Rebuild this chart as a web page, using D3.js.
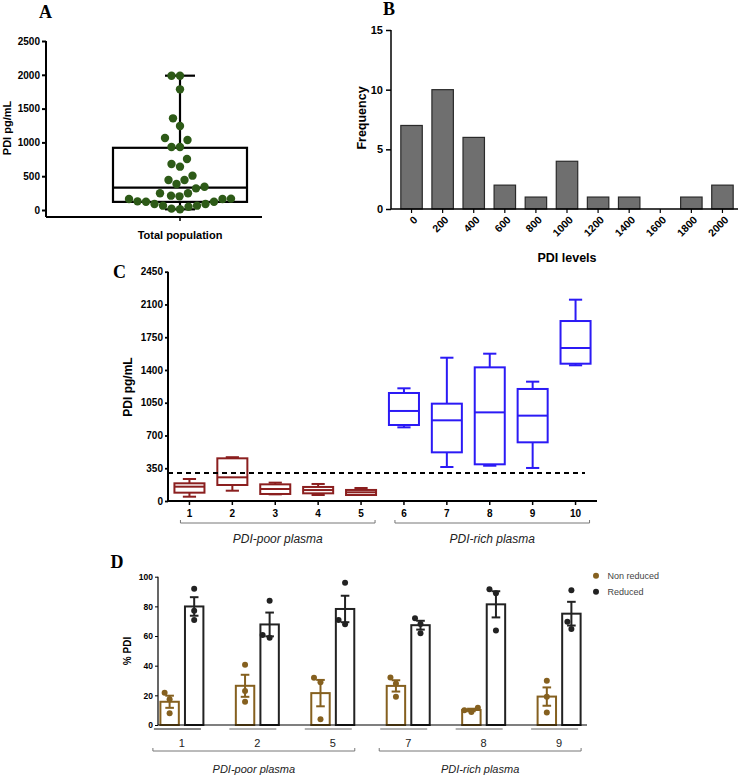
<!DOCTYPE html>
<html><head><meta charset="utf-8">
<script src="https://cdn.jsdelivr.net/npm/d3@7"></script>
<style>
body{margin:0;background:#fff}
text{font-family:"Liberation Sans",Arial,Helvetica,sans-serif}
text.letter{font-family:"Liberation Serif","Times New Roman",serif}
</style>
</head><body>
<svg id="chart" width="745" height="778"></svg>
<script>
// ---------- DATA ----------
// Panel A: individual PDI levels (pg/mL), total population
const popValues = [1987,1987,1785,1356,1243,1036,1065,932,932,754,641,680,444,444,508,345,320,385,247,247,
  212,168,163,123,89,64,49,10,20,64,89,123,128,163,202];
const popCategory = ["Total population"];
const popBoxStats = [10,120,330,920,1987]; // min, q1, median, q3, max
const popTicks = [0,500,1000,1500,2000,2500];

// Panel B: histogram
const histBins = ["0","200","400","600","800","1000","1200","1400","1600","1800","2000"];
const histFreq = [7,10,6,2,1,4,1,1,0,1,2];
const histTicks = [0,5,10,15];

// Panel C: per-sample box plots
const sampleIds = ["1","2","3","4","5","6","7","8","9","10"];
const sampleGroup = ["poor","poor","poor","poor","poor","rich","rich","rich","rich","rich"];
const boxMin    = [46,110,71,64,64,787,363,377,353,1450];
const boxQ1     = [89,171,75,82,64,812,520,392,627,1467];
const boxMedian = [153,253,128,117,93,962,862,947,912,1635];
const boxQ3     = [189,456,178,150,118,1154,1040,1428,1197,1923];
const boxMax    = [235,468,196,182,139,1204,1531,1574,1275,2151];
const thresholdC = 300;
const cTicks = [0,350,700,1050,1400,1750,2100,2450];
const cGroupLabels = ["PDI-poor plasma","PDI-rich plasma"];

// Panel D: % PDI, non reduced vs reduced (3 replicates each)
const dGroups = ["1","2","5","7","8","9"];
const dGroupClass = ["poor","poor","poor","rich","rich","rich"];
const dSeries = ["Non reduced","Reduced"];
const nonReducedDots = [[21.8,17.3,7.9],[40.7,22.9,15.7],[31.9,28.8,3.8],[32,28,19.1],[11.7,9.9,8.8],[29.9,19.1,8.5]];
const reducedDots    = [[91.9,77.1,70.8],[83.8,58.9,60.7],[96,67.9,70.8],[72,68.1,61.8],[91.5,88.8,63.8],[90.8,69.7,64.7]];
const dTicks = [0,20,40,60,80,100];

// ---------- HELPERS ----------
const svg = d3.select("#chart");

// beeswarm layout with an elliptical collision zone (dx width D, dy height H)
function swarm(vals, yScale, D, H, step) {
  const order = vals.map((v,i)=>({v,i,y:yScale(v)})).sort((a,b)=>a.v-b.v);
  const placed = [];
  order.forEach(p=>{
    for (let k=0;k<600;k++){
      const dx = (k%2===0?1:-1)*Math.ceil(k/2)*step;
      const ok = placed.every(q=>((dx-q.dx)/D)**2+((p.y-q.y)/H)**2 >= 0.999);
      if (ok){ p.dx = dx; break; }
    }
    placed.push(p);
  });
  return placed;
}
function styleAxis(g, size, sw){
  g.selectAll("text").attr("font-size",size).attr("font-weight","bold").attr("fill","#000");
  g.selectAll("line").attr("stroke","#000").attr("stroke-width",sw);
  g.select(".domain").remove();
}
function letter(txt,x,y){
  svg.append("text").attr("class","letter").attr("x",x).attr("y",y).text(txt)
    .attr("font-weight","bold").attr("font-size",18);
}

// ---------- PANEL A ----------
{
  const g = svg.append("g");
  const y = d3.scaleLinear().domain([0,2500]).range([210,41]);
  const x = d3.scaleBand().domain(popCategory).range([113,247]);
  const cx = x(popCategory[0]) + x.bandwidth()/2;
  const ax = g.append("g").attr("transform","translate(46,0)")
    .call(d3.axisLeft(y).tickValues(popTicks).tickSize(4).tickPadding(2).tickFormat(d3.format("d")));
  styleAxis(ax,10,2);
  g.append("line").attr("x1",46).attr("x2",46).attr("y1",y(2500)).attr("y2",217).attr("stroke","#000").attr("stroke-width",2);
  g.append("line").attr("x1",46).attr("x2",262).attr("y1",217).attr("y2",217).attr("stroke","#000").attr("stroke-width",2);
  g.append("line").attr("x1",cx).attr("x2",cx).attr("y1",217).attr("y2",221).attr("stroke","#000").attr("stroke-width",1.5);
  g.append("text").attr("x",cx).attr("y",239).attr("text-anchor","middle").attr("font-weight","bold").attr("font-size",11).text(popCategory[0]);
  g.append("text").attr("transform","translate(11,128) rotate(-90)").attr("text-anchor","middle").attr("font-weight","bold").attr("font-size",11).text("PDI pg/mL");
  const [mn,q1,md,q3,mx] = popBoxStats;
  const sw = 2.2;
  g.append("rect").attr("x",x(popCategory[0])).attr("width",x.bandwidth()).attr("y",y(q3)).attr("height",y(q1)-y(q3))
    .attr("fill","none").attr("stroke","#000").attr("stroke-width",sw);
  g.append("line").attr("x1",x(popCategory[0])).attr("x2",x(popCategory[0])+x.bandwidth()).attr("y1",y(md)).attr("y2",y(md)).attr("stroke","#000").attr("stroke-width",sw);
  g.append("line").attr("x1",cx).attr("x2",cx).attr("y1",y(mx)).attr("y2",y(q3)).attr("stroke","#000").attr("stroke-width",sw);
  g.append("line").attr("x1",cx).attr("x2",cx).attr("y1",y(q1)).attr("y2",y(mn)).attr("stroke","#000").attr("stroke-width",sw);
  g.append("line").attr("x1",cx-15).attr("x2",cx+15).attr("y1",y(mx)).attr("y2",y(mx)).attr("stroke","#000").attr("stroke-width",sw);
  g.append("line").attr("x1",cx-15).attr("x2",cx+15).attr("y1",y(mn)).attr("y2",y(mn)).attr("stroke","#000").attr("stroke-width",sw);
  const pts = swarm(popValues, y, 8.4, 13, 0.5);
  g.selectAll("circle.pop").data(pts).join("circle").attr("class","pop")
    .attr("cx",d=>cx+d.dx).attr("cy",d=>d.y).attr("r",4.2).attr("fill","#2d5a17");
  letter("A",39,18);
}

// ---------- PANEL B ----------
{
  const g = svg.append("g");
  const y = d3.scaleLinear().domain([0,15]).range([209,30]);
  const x = d3.scaleBand().domain(histBins).range([396,738]).paddingInner(0.31).paddingOuter(0.155);
  const ax = g.append("g").attr("transform","translate(391,0)")
    .call(d3.axisLeft(y).tickValues(histTicks).tickSize(5).tickPadding(3));
  styleAxis(ax,11,1.5);
  g.selectAll("rect.bar").data(histBins).join("rect").attr("class","bar")
    .attr("x",d=>x(d)).attr("width",x.bandwidth())
    .attr("y",(d,i)=>y(histFreq[i])).attr("height",(d,i)=>y(0)-y(histFreq[i]))
    .attr("fill","#6f6f6f").attr("stroke","#2a2a2a").attr("stroke-width",1.2);
  g.append("line").attr("x1",391).attr("x2",391).attr("y1",30).attr("y2",209).attr("stroke","#000").attr("stroke-width",1.5);
  g.append("line").attr("x1",391).attr("x2",738).attr("y1",209).attr("y2",209).attr("stroke","#000").attr("stroke-width",1.5);
  g.selectAll("line.xt").data(histBins).join("line").attr("class","xt")
    .attr("x1",d=>x(d)+x.bandwidth()/2).attr("x2",d=>x(d)+x.bandwidth()/2).attr("y1",209).attr("y2",213)
    .attr("stroke","#000").attr("stroke-width",1.2);
  g.selectAll("text.xl").data(histBins).join("text").attr("class","xl")
    .attr("transform",d=>`translate(${x(d)+x.bandwidth()/2+4},${218}) rotate(-45)`)
    .attr("text-anchor","end").attr("dy","0.35em").attr("font-size",10.5).attr("font-weight","bold").text(d=>d);
  g.append("text").attr("x",567).attr("y",262).attr("text-anchor","middle").attr("font-weight","bold").attr("font-size",12.5).text("PDI levels");
  g.append("text").attr("transform","translate(366,118) rotate(-90)").attr("text-anchor","middle").attr("font-weight","bold").attr("font-size",12.5).text("Frequency");
  letter("B",383,15);
}

// ---------- PANEL C ----------
{
  const g = svg.append("g");
  const y = d3.scaleLinear().domain([0,2450]).range([501,271.7]);
  const x = d3.scaleBand().domain(sampleIds).range([168,597]).paddingInner(0.3).paddingOuter(0.15);
  const colorC = {poor:"#8b1f1f", rich:"#2b1af5"};
  const ax = g.append("g").attr("transform","translate(168,0)")
    .call(d3.axisLeft(y).tickValues(cTicks).tickSize(3).tickPadding(2).tickFormat(d3.format("d")));
  styleAxis(ax,10,1.8);
  g.append("line").attr("x1",168).attr("x2",168).attr("y1",271.7).attr("y2",501).attr("stroke","#000").attr("stroke-width",2);
  g.append("line").attr("x1",168).attr("x2",597).attr("y1",501).attr("y2",501).attr("stroke","#000").attr("stroke-width",2);
  sampleIds.forEach((id,i)=>{
    const c = x(id)+x.bandwidth()/2, x0 = x(id), w = x.bandwidth(), col = colorC[sampleGroup[i]], sw = 2;
    const cap = w*0.22;
    g.append("line").attr("x1",c).attr("x2",c).attr("y1",501).attr("y2",505).attr("stroke","#000").attr("stroke-width",1.5);
    g.append("text").attr("x",c).attr("y",517).attr("text-anchor","middle").attr("font-weight","bold").attr("font-size",10).text(id);
    g.append("line").attr("x1",c).attr("x2",c).attr("y1",y(boxMax[i])).attr("y2",y(boxQ3[i])).attr("stroke",col).attr("stroke-width",sw);
    g.append("line").attr("x1",c).attr("x2",c).attr("y1",y(boxQ1[i])).attr("y2",y(boxMin[i])).attr("stroke",col).attr("stroke-width",sw);
    g.append("line").attr("x1",c-cap).attr("x2",c+cap).attr("y1",y(boxMax[i])).attr("y2",y(boxMax[i])).attr("stroke",col).attr("stroke-width",sw);
    g.append("line").attr("x1",c-cap).attr("x2",c+cap).attr("y1",y(boxMin[i])).attr("y2",y(boxMin[i])).attr("stroke",col).attr("stroke-width",sw);
    g.append("rect").attr("x",x0).attr("width",w).attr("y",y(boxQ3[i])).attr("height",Math.max(0.5,y(boxQ1[i])-y(boxQ3[i])))
      .attr("fill","#fff").attr("stroke",col).attr("stroke-width",sw);
    g.append("line").attr("x1",x0).attr("x2",x0+w).attr("y1",y(boxMedian[i])).attr("y2",y(boxMedian[i])).attr("stroke",col).attr("stroke-width",sw);
  });
  g.append("line").attr("x1",168).attr("x2",585).attr("y1",y(thresholdC)).attr("y2",y(thresholdC))
    .attr("stroke","#000").attr("stroke-width",2).attr("stroke-dasharray","5,4");
  g.append("text").attr("transform","translate(132,387) rotate(-90)").attr("text-anchor","middle").attr("font-weight","bold").attr("font-size",12).text("PDI pg/mL");
  ["poor","rich"].forEach((cls,k)=>{
    const ids = sampleIds.filter((d,i)=>sampleGroup[i]===cls);
    const a = x(ids[0])+x.bandwidth()/2-9, b = x(ids[ids.length-1])+x.bandwidth()/2+14, yy = 523;
    g.append("path").attr("d",`M${a},${yy-3}V${yy}H${b}V${yy-3}`).attr("fill","none").attr("stroke","#777").attr("stroke-width",1);
    g.append("text").attr("x",(a+b)/2).attr("y",543).attr("text-anchor","middle").attr("font-style","italic").attr("font-size",12).attr("fill","#222").text(cGroupLabels[k]);
  });
  letter("C",113,278);
}

// ---------- PANEL D ----------
{
  const g = svg.append("g");
  const y = d3.scaleLinear().domain([0,100]).range([725,576.7]);
  const x = d3.scalePoint().domain(dGroups).range([157,584]).padding(0.33);
  const sub = d3.scaleBand().domain(dSeries).range([-21.5,21.5]).paddingInner(0.25);
  const colD = {"Non reduced":"#85601f","Reduced":"#222"};
  const ax = g.append("g").attr("transform","translate(158,0)")
    .call(d3.axisLeft(y).tickValues(dTicks).tickSize(3).tickPadding(2));
  styleAxis(ax,8.5,1);
  g.append("line").attr("x1",158).attr("x2",158).attr("y1",576.7).attr("y2",725).attr("stroke","#000").attr("stroke-width",1.2);
  dGroups.forEach((grp,i)=>{
    const gc = x(grp);
    [nonReducedDots[i], reducedDots[i]].forEach((vals,s)=>{
      const ser = dSeries[s], col = colD[ser];
      const bx = gc + sub(ser), bw = sub.bandwidth(), c = bx + bw/2;
      const m = d3.mean(vals), sem = d3.deviation(vals)/Math.sqrt(vals.length);
      g.append("rect").attr("x",bx).attr("width",bw).attr("y",y(m)).attr("height",y(0)-y(m))
        .attr("fill","#fff").attr("stroke",col).attr("stroke-width",2);
      g.append("line").attr("x1",c).attr("x2",c).attr("y1",y(m+sem)).attr("y2",y(m-sem)).attr("stroke",col).attr("stroke-width",2);
      [m+sem,m-sem].forEach(v=>g.append("line").attr("x1",c-4.3).attr("x2",c+4.3).attr("y1",y(v)).attr("y2",y(v)).attr("stroke",col).attr("stroke-width",2));
      const pts = swarm(vals, y, 7, 9, 0.5);
      g.selectAll(null).data(pts).join("circle").attr("cx",d=>c+d.dx).attr("cy",d=>d.y).attr("r",3).attr("fill",col);
    });
    g.append("line").attr("x1",gc-28).attr("x2",gc+19).attr("y1",729).attr("y2",729)
      .attr("stroke", i===0?"#111":"#666").attr("stroke-width",1.2);
    g.append("text").attr("x",gc).attr("y",746.5).attr("text-anchor","middle").attr("font-size",11).attr("fill","#222").text(grp);
  });
  g.append("line").attr("x1",158).attr("x2",587).attr("y1",725).attr("y2",725).attr("stroke","#000").attr("stroke-width",1.2);
  g.append("text").attr("transform","translate(131,651) rotate(-90)").attr("text-anchor","middle").attr("font-weight","bold").attr("font-size",10).text("% PDI");
  ["poor","rich"].forEach((cls,k)=>{
    const gs = dGroups.filter((d,i)=>dGroupClass[i]===cls);
    const a = x(gs[0])-29, b = x(gs[gs.length-1])+22, yy = 751;
    g.append("path").attr("d",`M${a},${yy-3}V${yy}H${b}V${yy-3}`).attr("fill","none").attr("stroke","#777").attr("stroke-width",1);
    g.append("text").attr("x",(a+b)/2).attr("y",773).attr("text-anchor","middle").attr("font-style","italic").attr("font-size",11).attr("fill","#222").text(cGroupLabels[k]);
  });
  // legend
  dSeries.forEach((ser,k)=>{
    const ly = 575.7 + k*16;
    g.append("circle").attr("cx",596).attr("cy",ly).attr("r",3).attr("fill",colD[ser]);
    g.append("text").attr("x",607.5).attr("y",ly).attr("dy","0.35em").attr("font-size",9).attr("fill","#444").text(ser);
  });
  letter("D",110.5,568);
}
</script>
</body></html>
